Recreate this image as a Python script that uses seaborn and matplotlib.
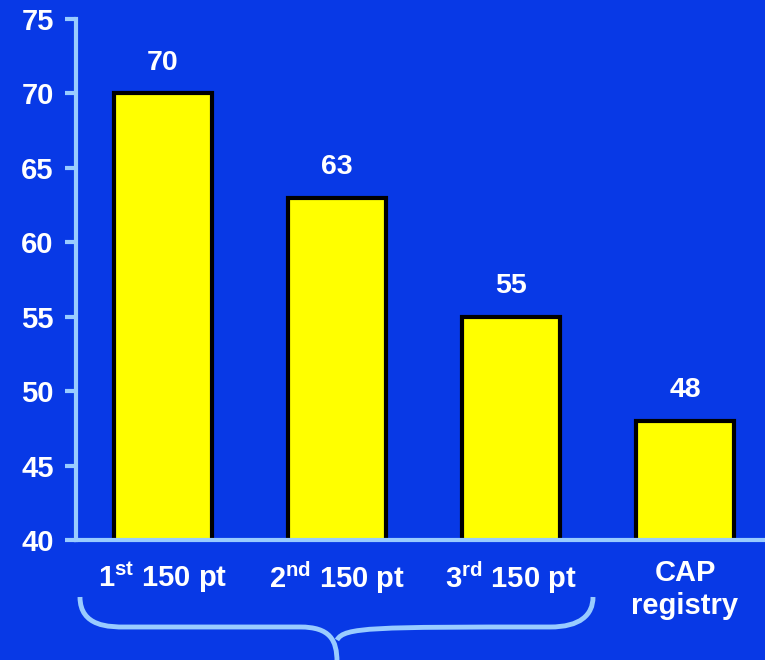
import matplotlib
matplotlib.use("Agg")
import matplotlib.pyplot as plt
from matplotlib import font_manager as fm
import seaborn as sns
import pandas as pd
from matplotlib.path import Path
from matplotlib.patches import PathPatch

categories = ["1st 150 pt", "2nd 150 pt", "3rd 150 pt", "CAP registry"]
tick_labels = [r"1$^{\mathrm{st}}$ 150 pt", r"2$^{\mathrm{nd}}$ 150 pt",
               r"3$^{\mathrm{rd}}$ 150 pt", "CAP\nregistry"]
values = [70, 63, 55, 48]
y_ticks = [40, 45, 50, 55, 60, 65, 70, 75]

BG = "#0839E6"
AX = "#99CCFF"
BAR = "#FFFF00"

sns.set_theme(style="white")

bold_path = None
for f in fm.findSystemFonts():
    if f.endswith("LiberationSans-Bold.ttf"):
        bold_path = f
        break
if bold_path:
    fm.fontManager.addfont(bold_path)
    fam = fm.FontProperties(fname=bold_path).get_name()
else:
    fam = "Liberation Sans"

plt.rcParams["font.family"] = [fam, "DejaVu Sans"]
plt.rcParams["font.weight"] = "bold"
plt.rcParams["mathtext.fontset"] = "custom"
plt.rcParams["mathtext.rm"] = f"{fam}:bold"
plt.rcParams["mathtext.bf"] = f"{fam}:bold"
plt.rcParams["mathtext.it"] = f"{fam}:bold"

def fp(size):
    if bold_path:
        return fm.FontProperties(fname=bold_path, size=size)
    return fm.FontProperties(family=fam, weight="bold", size=size)

W, H = 765, 660
fig = plt.figure(figsize=(W / 100, H / 100), dpi=100, facecolor=BG)
ax = fig.add_axes([76 / W, (H - 540) / H, (W - 76) / W, (540 - 19) / H])
ax.set_facecolor(BG)

df = pd.DataFrame({"cat": categories, "val": values})
sns.barplot(data=df, x="cat", y="val", ax=ax, color=BAR, saturation=1,
            width=0.56, edgecolor="black", linewidth=3)

ax.set_ylim(40, 75)
ax.set_xlim(-0.5, 3.46)
ax.set_yticks(y_ticks)
ax.set_yticklabels([str(t) for t in y_ticks])
ax.set_xticks(range(len(categories)))
ax.set_xticklabels(tick_labels)
ax.set_xlabel("")
ax.set_ylabel("")

for s in ["top", "right"]:
    ax.spines[s].set_visible(False)
for s in ["left", "bottom"]:
    ax.spines[s].set_color(AX)
    ax.spines[s].set_linewidth(3)

ax.tick_params(axis="y", which="both", left=True, direction="out", length=8,
               width=3, color=AX, labelcolor="white", pad=8)
ax.tick_params(axis="x", which="both", bottom=False,
               labelcolor="white", pad=8)
for lab in ax.get_yticklabels():
    lab.set_fontproperties(fp(21))
for lab in ax.get_xticklabels():
    lab.set_fontproperties(fp(21))
    lab.set_linespacing(1.2)

for i, v in enumerate(values):
    ax.annotate(str(v), (i, v), xytext=(0, 17), textcoords="offset points",
                ha="center", va="baseline", color="white", fontproperties=fp(20.5))

def fx(x):
    return x / W

def fy(y):
    return (H - y) / H

verts = [
    (fx(80), fy(597)),
    (fx(80), fy(627)), (fx(110), fy(627)), (fx(125), fy(627)),
    (fx(300), fy(627)),
    (fx(330), fy(627)), (fx(337), fy(640)), (fx(337), fy(662)),
    (fx(337), fy(640)), (fx(344), fy(627)), (fx(374), fy(627)),
    (fx(550), fy(627)),
    (fx(580), fy(627)), (fx(593), fy(615)), (fx(593), fy(597)),
]
codes = [Path.MOVETO,
         Path.CURVE4, Path.CURVE4, Path.CURVE4,
         Path.LINETO,
         Path.CURVE4, Path.CURVE4, Path.CURVE4,
         Path.MOVETO, Path.CURVE4, Path.CURVE4,
         Path.LINETO,
         Path.CURVE4, Path.CURVE4, Path.CURVE4]
brace = PathPatch(Path(verts, codes), transform=fig.transFigure, fill=False,
                  edgecolor=AX, linewidth=3.5, capstyle="butt")
fig.add_artist(brace)

fig.savefig("out.png", dpi=100, facecolor=BG)
